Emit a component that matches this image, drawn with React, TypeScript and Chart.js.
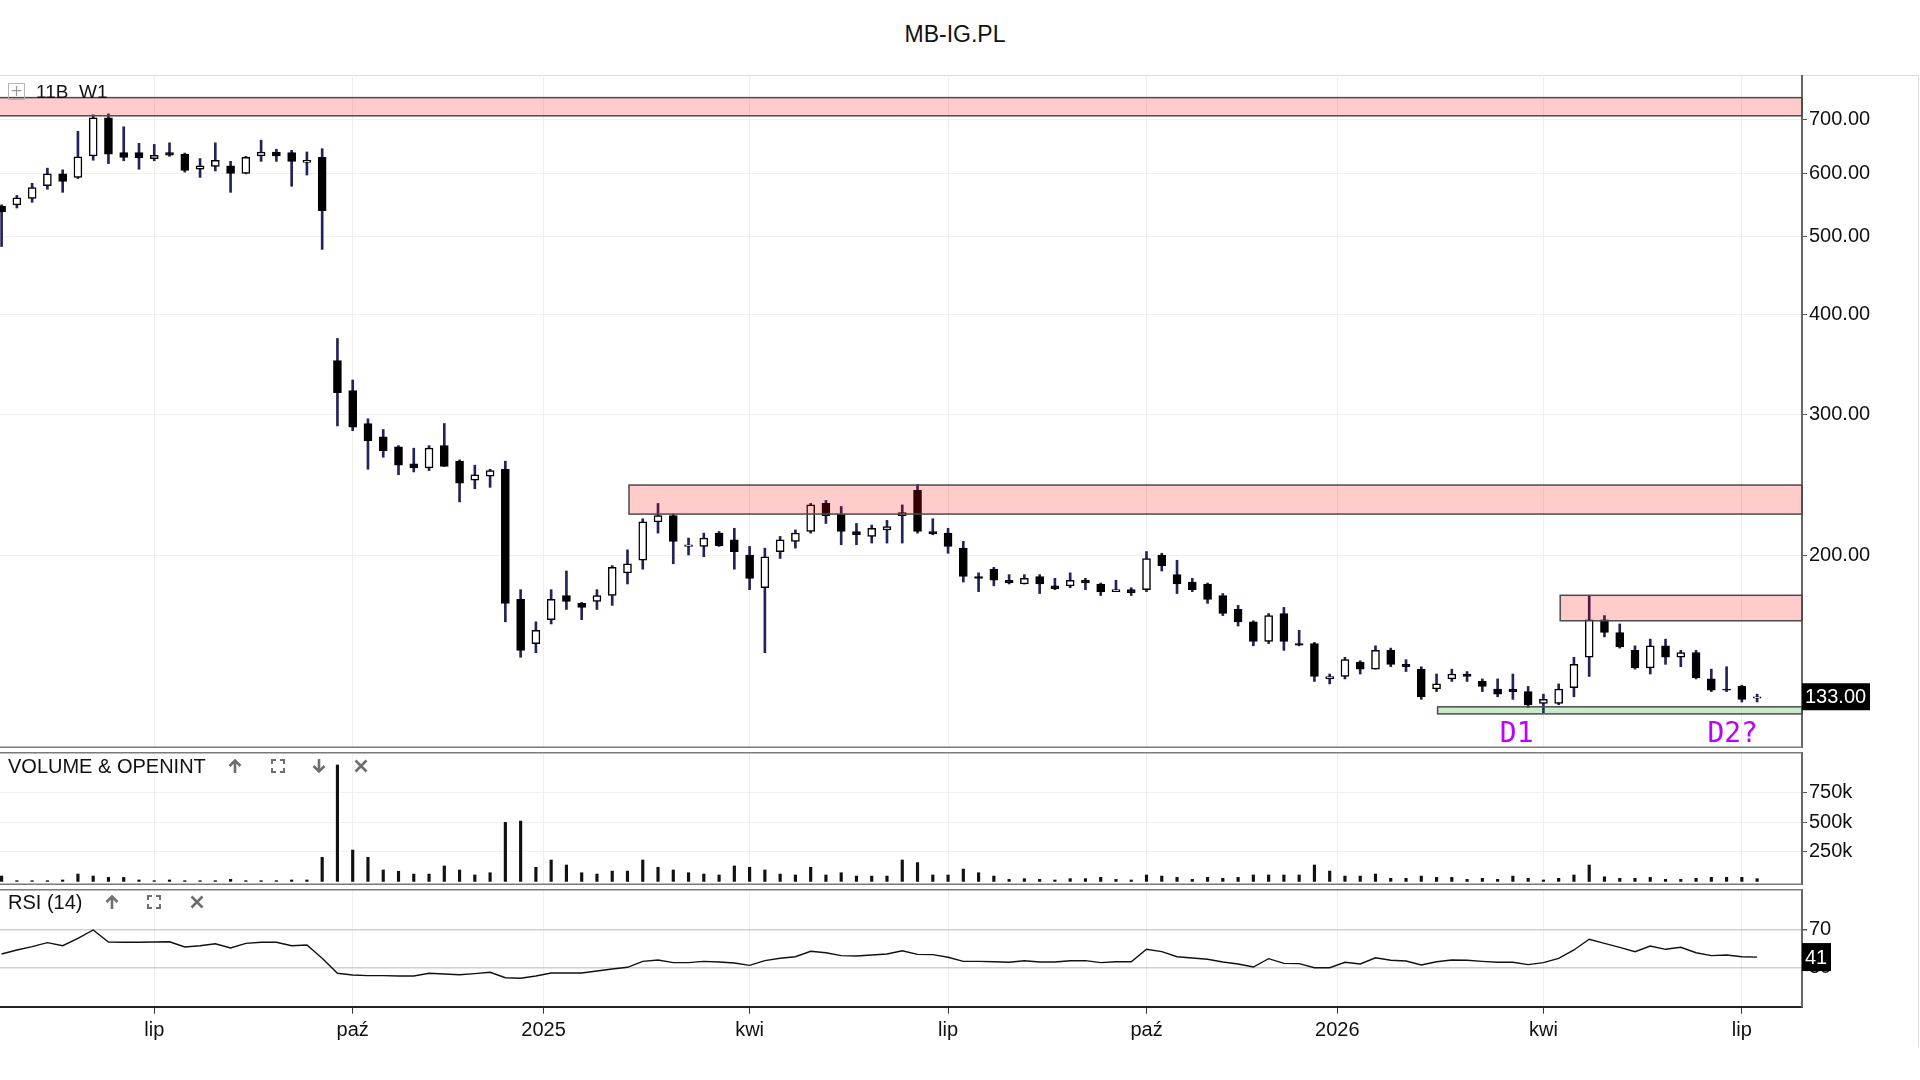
import React, { useEffect, useRef } from 'react';
import { Chart, registerables } from 'chart.js';

Chart.register(...registerables);

// ---------------- DATA ----------------
const opens = [546, 548, 558, 579, 599, 593, 631, 704, 637, 637, 626, 637, 634, 607, 612, 613, 600, 631, 638, 637, 619, 628,
  350, 321, 292, 281, 273, 260, 257, 274, 262, 248, 251, 256, 176, 155, 166, 178, 174, 175, 178, 190, 197, 220, 224, 205, 205,
  213, 209, 200, 182, 202, 208, 214, 232, 225, 214, 211, 215, 224, 241, 214, 213, 204, 188, 192, 186, 184, 188, 183, 183, 186,
  184, 180, 181, 181, 200, 189, 185, 184, 178, 171, 165, 156, 169, 155, 155, 140, 141, 147, 144, 152, 146, 144, 136, 140, 142,
  139, 136, 136, 135, 130.5, 130.5, 136.5, 149, 166, 160, 152, 144.5, 154, 149, 151, 140, 136, 137, 132.5];
const highs = [548, 563, 583, 609, 606, 677, 710, 712, 686, 654, 652, 655, 636, 626, 655, 621, 630, 660, 643, 641, 638, 644,
  373, 331, 296, 287, 274, 272, 274, 292, 263, 259, 256, 262, 181, 165, 181, 191, 174.5, 181, 194, 203, 222, 232, 225, 210, 213,
  214, 216, 205, 204, 211, 215, 232, 234, 230, 219, 218, 221, 231, 245, 222, 216, 208, 190, 193, 189, 189, 189, 187, 190, 187,
  184.5, 186, 182, 202, 201, 197, 187, 184.5, 179, 173, 165.5, 169, 172, 161, 155.5, 142, 149, 147.5, 154, 153, 148, 145, 142,
  144, 143, 140, 140, 142, 137, 134, 138, 149, 178, 168, 164, 154, 157, 157, 152, 152, 144, 145, 137.5, 134];
const lows = [486, 543, 552, 573, 568, 591, 623, 617, 622, 607, 622, 630, 602, 593, 604, 568, 599, 621, 621, 578, 597, 482,
  290, 286, 256, 265, 252, 254, 255, 258, 233, 242, 243, 165, 149, 151, 164, 171, 166, 171, 173, 184, 192, 213, 195, 200, 199,
  205, 192, 181, 151, 198, 204, 213, 219, 206, 206, 207, 207, 207, 213, 212, 201, 185, 180, 183, 184, 184, 179, 181, 182, 181,
  178, 180, 178, 180, 191, 179, 180, 174, 168, 163, 154, 155, 152, 154, 139, 138, 140, 142, 144, 145, 143, 132, 135, 139, 139,
  135, 133, 132, 129, 127, 130, 133, 141, 158, 153, 144, 142, 146, 145, 140, 135, 135, 131, 131];
const closes = [537, 559, 576, 599, 586, 629, 704, 634, 628, 627, 632, 632, 605, 613, 623, 600, 628, 638, 631, 621, 623, 539,
  319, 289, 278, 270, 259, 257, 272, 258, 246, 252, 255, 174, 152, 161, 176, 175, 172, 178, 193, 195, 220, 224, 208, 206, 210,
  205.5, 202, 187, 199, 209, 213, 231, 224, 214, 212, 216, 217, 226, 214, 212.5, 205, 188, 187, 186, 184.5, 187, 184, 181.5, 186,
  184.5, 180, 181, 179.5, 198, 194, 184, 181, 176, 169, 165, 156, 168, 156, 154.3, 141, 141, 148, 144, 152, 146, 145, 133, 138,
  142, 141, 137, 134, 135, 130, 132, 136, 146, 166, 160, 153.5, 144.5, 154, 149, 151, 140.5, 135.5, 135.5, 132, 133];
// volume in thousands of shares
const volumesK = [45, 6, 6, 6, 12, 62, 45, 34, 34, 12, 6, 12, 6, 6, 6, 17, 6, 6, 6, 12, 12, 203, 980, 264, 203, 96, 85, 62, 62,
  130, 96, 54, 73, 497, 508, 119, 180, 138, 73, 62, 87, 87, 180, 119, 96, 73, 62, 54, 130, 119, 96, 62, 54, 119, 54, 73, 45, 45,
  45, 180, 158, 54, 54, 104, 73, 45, 17, 23, 17, 12, 23, 23, 34, 17, 12, 54, 45, 34, 17, 34, 26, 34, 54, 54, 54, 54, 138, 87, 45,
  45, 62, 26, 26, 45, 34, 34, 17, 26, 17, 45, 26, 12, 26, 54, 138, 39, 26, 26, 34, 17, 17, 26, 34, 34, 34, 23];
const rsiValues = [44.2, 48.5, 52, 56.2, 53, 60.8, 69.6, 56.9, 56.6, 56.6, 56.9, 57.2, 51.6, 53, 55.1, 50.6, 55.5, 56.6, 56.6, 53,
  53.7, 39.7, 23.9, 22.1, 21.4, 21.4, 21, 21, 23.9, 23.1, 22.4, 23.5, 24.9, 19.2, 18.6, 21, 24.2, 24.2, 24.2, 26.3, 28.4, 30.2,
  36.5, 37.9, 35.1, 35.1, 36.5, 35.8, 34.7, 32.3, 37.2, 39.7, 41.4, 47.1, 45.6, 42.5, 42.1, 43.2, 44.2, 47.7, 43.9, 43.6, 40.8,
  36.5, 36.5, 36.1, 35.5, 37.2, 35.8, 35.8, 37.2, 37.2, 35.1, 36.1, 36.1, 49.2, 46.7, 41.4, 40, 38.7, 35.8, 33.7, 30.5, 39.3, 34.4,
  34.1, 29.8, 29.8, 35.5, 33.7, 40.3, 37.6, 36.9, 32.6, 36.1, 37.9, 37.6, 36.5, 35.5, 35.5, 33, 35.1, 39.7, 48.5, 59.8, 55.5,
  51.3, 46.7, 52.7, 49.2, 51.3, 45.6, 42.5, 43.2, 41.4, 41];

// x-axis (week index) ticks
const tickIndex = [10, 23, 35.5, 49, 62, 75, 87.5, 101, 114];
const tickLabels = ['lip', 'paź', '2025', 'kwi', 'lip', 'paź', '2026', 'kwi', 'lip'];
const priceTicks = [200, 300, 400, 500, 600, 700];
const volumeTicks = [250, 500, 750];
const rsiTicks = [30, 70];

// price zones: start index, low price, high price, kind
const zoneStart = [-2, 41.1, 102.1, 94.07];
const zoneLow = [708, 225, 165.5, 126.6];
const zoneHigh = [746, 244.6, 178.1, 129.2];
const zoneKind = ['resistance', 'resistance', 'resistance', 'support'];

// text annotations
const noteText = ['D1', 'D2?'];
const noteIndex = [99.25, 113.4];
const notePrice = [119.1, 119.1];

// ---------------- STYLE ----------------
const FONT = '"Liberation Sans", Arial, sans-serif';
const X_MIN = -0.105;
const X_MAX = 117.94;
const AXIS_W = 118;

function xScale(showLabels: boolean, height: number) {
  return {
    type: 'linear',
    min: X_MIN,
    max: X_MAX,
    offset: false,
    afterBuildTicks: (s: any) => {
      s.ticks = tickIndex.map((v) => ({ value: v }));
    },
    ticks: {
      display: showLabels,
      autoSkip: false,
      maxRotation: 0,
      padding: 5,
      color: '#111',
      font: { family: FONT, size: 20 },
      callback: (_v: any, i: number) => tickLabels[i],
    },
    grid: {
      color: '#efefef',
      lineWidth: 1,
      offset: false,
      drawTicks: showLabels,
      tickLength: 7,
      tickColor: '#333',
    },
    border: { display: showLabels, color: '#222', width: 2 },
    afterFit: (s: any) => {
      s.height = height;
      s.paddingLeft = 0;
      s.paddingRight = 0;
    },
  };
}

function yAfterFit(s: any) {
  s.width = AXIS_W;
  s.paddingTop = 0;
  s.paddingBottom = 0;
}

function frame(top: boolean, bottom: boolean) {
  return {
    id: 'frame',
    afterDraw(chart: any) {
      const { ctx, chartArea: a } = chart;
      ctx.save();
      ctx.strokeStyle = '#7a7a7a';
      ctx.lineWidth = 1.5;
      ctx.beginPath();
      if (top) {
        ctx.moveTo(0, a.top + 0.75);
        ctx.lineTo(a.right, a.top + 0.75);
      }
      if (bottom) {
        ctx.moveTo(0, a.bottom - 0.75);
        ctx.lineTo(a.right, a.bottom - 0.75);
      }
      ctx.stroke();
      ctx.restore();
    },
  };
}

function valueBox(value: number, text: string, width: number, height: number, axisId: string) {
  return {
    id: 'valueBox',
    afterDraw(chart: any) {
      const { ctx, chartArea: a } = chart;
      const y = chart.scales[axisId].getPixelForValue(value);
      ctx.save();
      ctx.fillStyle = '#000';
      ctx.fillRect(a.right, y - height / 2, width, height);
      ctx.fillStyle = '#fff';
      ctx.font = `20px ${FONT}`;
      ctx.textAlign = 'left';
      ctx.textBaseline = 'middle';
      ctx.fillText(text, a.right + 3, y + 1);
      ctx.restore();
    },
  };
}

const zonesPlugin = {
  id: 'zones',
  afterDatasetsDraw(chart: any) {
    const { ctx, chartArea: a, scales } = chart;
    ctx.save();
    for (let i = 0; i < zoneStart.length; i++) {
      const x0 = scales.x.getPixelForValue(zoneStart[i]);
      const x1 = a.right;
      const yt = scales.y.getPixelForValue(zoneHigh[i]);
      const yb = scales.y.getPixelForValue(zoneLow[i]);
      ctx.fillStyle = zoneKind[i] === 'support' ? 'rgba(0,150,0,0.2)' : 'rgba(255,0,0,0.2)';
      ctx.fillRect(x0, yt, x1 - x0, yb - yt);
      ctx.strokeStyle = '#4a4a4a';
      ctx.lineWidth = 1.5;
      ctx.strokeRect(x0, yt, x1 - x0, yb - yt);
    }
    ctx.fillStyle = '#c000ff';
    ctx.font = '28px "DejaVu Sans Mono", monospace';
    ctx.textAlign = 'center';
    ctx.textBaseline = 'middle';
    for (let i = 0; i < noteText.length; i++) {
      ctx.fillText(noteText[i], scales.x.getPixelForValue(noteIndex[i]), scales.y.getPixelForValue(notePrice[i]));
    }
    ctx.restore();
  },
};

const commonOpts = {
  responsive: false,
  animation: false,
  events: [],
  layout: { padding: 0 },
  plugins: { legend: { display: false }, tooltip: { enabled: false } },
};

const yTicksStyle = { padding: 2, color: '#111', font: { family: FONT, size: 20 } };

export default function App() {
  const mainRef = useRef<HTMLCanvasElement>(null);
  const volRef = useRef<HTMLCanvasElement>(null);
  const rsiRef = useRef<HTMLCanvasElement>(null);

  useEffect(() => {
    const charts: Chart[] = [];
    const idx = closes.map((_, i) => i);
    const bodyColors = closes.map((c, i) => (c >= opens[i] ? '#ffffff' : '#000000'));

    charts.push(
      new Chart(mainRef.current as HTMLCanvasElement, {
        type: 'bar',
        data: {
          datasets: [
            {
              label: 'body',
              data: idx.map((i) => ({ x: i, y: [opens[i], closes[i]] })) as any,
              backgroundColor: bodyColors,
              borderColor: '#000',
              borderWidth: 1.5,
              borderSkipped: false,
              barThickness: 8,
              grouped: false,
              minBarLength: 1,
              order: 1,
            } as any,
            {
              label: 'wick',
              data: idx.map((i) => ({ x: i, y: [lows[i], highs[i]] })) as any,
              backgroundColor: '#22225c',
              borderWidth: 0,
              barThickness: 2,
              grouped: false,
              order: 2,
            } as any,
          ],
        },
        options: {
          ...commonOpts,
          scales: {
            x: xScale(false, 0) as any,
            y: {
              type: 'logarithmic',
              position: 'right',
              min: 114.76,
              max: 796.2,
              afterBuildTicks: (s: any) => {
                s.ticks = priceTicks.map((v) => ({ value: v }));
              },
              ticks: { ...yTicksStyle, callback: (v: any) => Number(v).toFixed(2) },
              grid: { color: '#f0f0f0', tickLength: 5, tickColor: '#555' },
              border: { color: '#666', width: 2 },
              afterFit: yAfterFit,
            } as any,
          },
        } as any,
        plugins: [zonesPlugin, frame(false, true), valueBox(closes[closes.length - 1], closes[closes.length - 1].toFixed(2), 68, 27, 'y')],
      })
    );

    charts.push(
      new Chart(volRef.current as HTMLCanvasElement, {
        type: 'bar',
        data: {
          datasets: [
            {
              label: 'volume',
              data: idx.map((i) => ({ x: i, y: volumesK[i] })) as any,
              backgroundColor: '#111',
              barThickness: 2.5,
              borderWidth: 0,
            } as any,
          ],
        },
        options: {
          ...commonOpts,
          scales: {
            x: xScale(false, 0) as any,
            y: {
              type: 'linear',
              position: 'right',
              min: -30.3,
              max: 1089.3,
              afterBuildTicks: (s: any) => {
                s.ticks = volumeTicks.map((v) => ({ value: v }));
              },
              ticks: { ...yTicksStyle, callback: (v: any) => `${v}k` },
              grid: { color: '#f0f0f0', tickLength: 5, tickColor: '#555' },
              border: { color: '#666', width: 2 },
              afterFit: yAfterFit,
            } as any,
          },
        } as any,
        plugins: [frame(true, true)],
      })
    );

    charts.push(
      new Chart(rsiRef.current as HTMLCanvasElement, {
        type: 'line',
        data: {
          datasets: [
            {
              label: 'RSI (14)',
              data: idx.map((i) => ({ x: i, y: rsiValues[i] })),
              borderColor: '#111',
              borderWidth: 1.4,
              pointRadius: 0,
              tension: 0,
              fill: false,
            },
          ],
        },
        options: {
          ...commonOpts,
          scales: {
            x: xScale(true, 73.3) as any,
            y: {
              type: 'linear',
              position: 'right',
              min: -11.37,
              max: 112.85,
              afterBuildTicks: (s: any) => {
                s.ticks = rsiTicks.map((v) => ({ value: v }));
              },
              ticks: { ...yTicksStyle, callback: (v: any) => `${v}` },
              grid: { color: '#cfcfcf', lineWidth: 1.5, tickLength: 5, tickColor: '#555' },
              border: { color: '#666', width: 2 },
              afterFit: yAfterFit,
            } as any,
          },
        } as any,
        plugins: [frame(true, false), valueBox(rsiValues[rsiValues.length - 1], String(Math.round(rsiValues[rsiValues.length - 1])), 29, 28, 'y')],
      })
    );

    return () => charts.forEach((c) => c.destroy());
  }, []);

  const G = '#6e6e6e';
  const upIcon = (cx: number, cy: number) => (
    <svg style={{ position: 'absolute', left: cx - 7, top: cy - 8 }} width={14} height={16} viewBox="0 0 14 16">
      <path d="M7 15 V2.5 M1.5 8 L7 2.5 L12.5 8" fill="none" stroke={G} strokeWidth={2.6} />
    </svg>
  );
  const downIcon = (cx: number, cy: number) => (
    <svg style={{ position: 'absolute', left: cx - 7, top: cy - 8 }} width={14} height={16} viewBox="0 0 14 16">
      <path d="M7 1 V13.5 M1.5 8 L7 13.5 L12.5 8" fill="none" stroke={G} strokeWidth={2.6} />
    </svg>
  );
  const closeIcon = (cx: number, cy: number) => (
    <svg style={{ position: 'absolute', left: cx - 7, top: cy - 7 }} width={14} height={14} viewBox="0 0 14 14">
      <path d="M1.5 1.5 L12.5 12.5 M12.5 1.5 L1.5 12.5" fill="none" stroke={G} strokeWidth={2.6} />
    </svg>
  );
  const cornerIcon = (cx: number, cy: number) => (
    <svg style={{ position: 'absolute', left: cx - 7, top: cy - 7 }} width={14} height={14} viewBox="0 0 14 14">
      <path d="M1 5 V1 H5 M9 1 H13 V5 M13 9 V13 H9 M5 13 H1 V9" fill="none" stroke={G} strokeWidth={2} />
    </svg>
  );

  return (
    <div style={{ position: 'fixed', left: 0, top: 0, width: 1920, height: 1080, background: '#fff', overflow: 'hidden', fontFamily: FONT }}>
      <div style={{ position: 'absolute', left: 0, top: 20, width: 1910, textAlign: 'center', fontSize: 23, lineHeight: '28px', color: '#111' }}>MB-IG.PL</div>
      <div style={{ position: 'absolute', left: 0, top: 75, width: 1919, height: 972, borderTop: '1px solid #dcdcdc', borderRight: '1px solid #dcdcdc', boxSizing: 'border-box' }} />
      <canvas ref={mainRef} width={1920} height={673} style={{ position: 'absolute', left: 0, top: 75, width: 1920, height: 673 }} />
      <canvas ref={volRef} width={1920} height={133} style={{ position: 'absolute', left: 0, top: 752, width: 1920, height: 133 }} />
      <canvas ref={rsiRef} width={1920} height={191} style={{ position: 'absolute', left: 0, top: 889, width: 1920, height: 191 }} />

      <div style={{ position: 'absolute', left: 8, top: 83, width: 15, height: 15, border: '1px solid #b5b5b5', color: '#9a9a9a', fontSize: 15, lineHeight: '15px', textAlign: 'center', fontFamily: '"DejaVu Sans", sans-serif' }}>+</div>
      <div style={{ position: 'absolute', left: 36, top: 80, fontSize: 19, lineHeight: '23px', color: '#111', whiteSpace: 'pre' }}>11B  W1</div>

      <div style={{ position: 'absolute', left: 8, top: 754, fontSize: 20, lineHeight: '24px', color: '#111' }}>VOLUME &amp; OPENINT</div>
      {upIcon(235, 766)}
      {cornerIcon(278, 766)}
      {downIcon(319, 766)}
      {closeIcon(361, 766)}

      <div style={{ position: 'absolute', left: 8, top: 890, fontSize: 20, lineHeight: '24px', color: '#111' }}>RSI (14)</div>
      {upIcon(112, 902)}
      {cornerIcon(154, 902)}
      {closeIcon(197, 902)}
    </div>
  );
}
